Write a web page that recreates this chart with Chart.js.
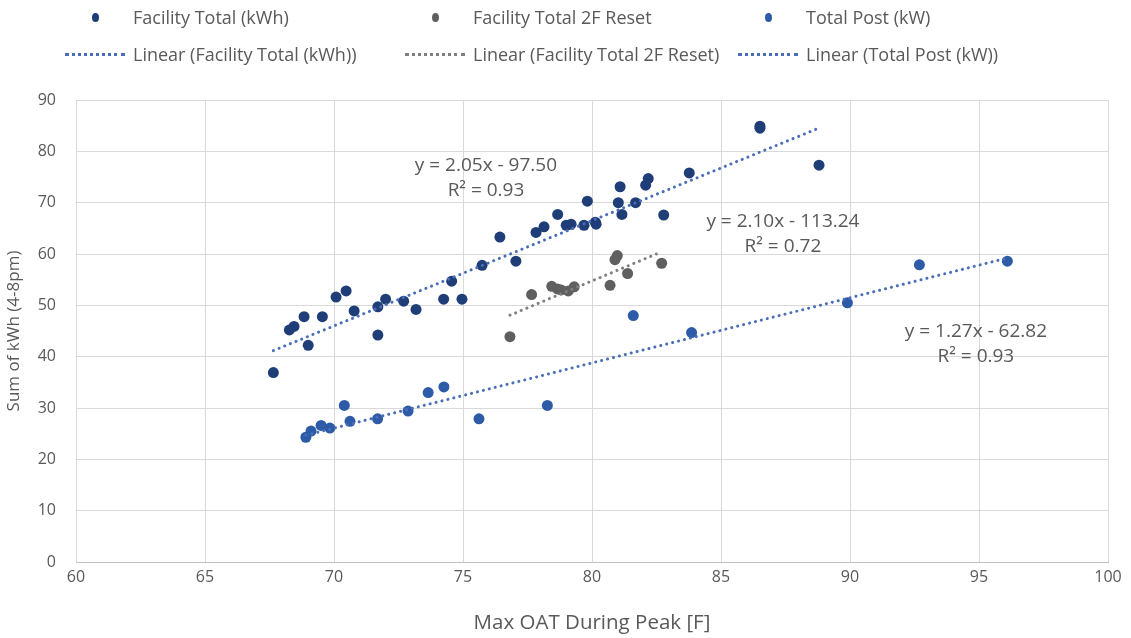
<!DOCTYPE html>
<html>
<head>
<meta charset="utf-8">
<script src="https://cdn.jsdelivr.net/npm/chart.js@4"></script>
<style>
  html, body { margin: 0; padding: 0; background: #fff; }
  #wrap { position: relative; width: 1131px; height: 638px; }
  #legend { position: absolute; left: 0; top: 0; width: 1131px; height: 80px; font-family: "Open Sans", sans-serif; font-size: 18px; color: #595959; }
  .item { position: absolute; display: flex; align-items: center; height: 22px; }
  .sym { width: 60px; display: flex; justify-content: center; align-items: center; }
  .dot { width: 7px; height: 9px; border-radius: 50%; }
  .dash { width: 60px; border-top: 3px dotted; }
  .txt { margin-left: 8px; white-space: nowrap; }
</style>
</head>
<body>
<div id="wrap">
  <canvas id="chart" width="1131" height="638"></canvas>
  <div id="legend"></div>
</div>
<script>
// Max OAT during peak [F] vs sum of kWh (4-8pm)
const facilityX = [67.65, 68.27, 68.45, 68.84, 69.0, 69.55, 70.08, 70.47, 70.78, 71.7, 71.7, 72.0, 72.7, 73.18, 74.25, 74.56, 74.96, 75.74, 76.43, 77.05, 77.83, 78.14, 78.67, 79.0, 79.19, 79.69, 79.82, 80.13, 80.16, 81.02, 81.09, 81.16, 81.69, 82.08, 82.18, 82.78, 83.77, 86.51, 86.51, 88.8];
const facilityY = [36.9, 45.2, 45.9, 47.8, 42.2, 47.8, 51.6, 52.8, 48.9, 44.2, 49.7, 51.2, 50.8, 49.2, 51.2, 54.7, 51.2, 57.8, 63.3, 58.6, 64.2, 65.3, 67.7, 65.6, 65.8, 65.6, 70.3, 66.2, 65.8, 70.0, 73.1, 67.7, 70.0, 73.4, 74.7, 67.6, 75.8, 84.9, 84.5, 77.3];

const resetX = [76.82, 77.66, 78.44, 78.66, 78.8, 79.08, 79.31, 80.7, 80.89, 80.98, 81.38, 82.7];
const resetY = [43.9, 52.1, 53.7, 53.2, 53.0, 52.8, 53.6, 53.9, 58.9, 59.7, 56.2, 58.2];

const postX = [68.91, 69.11, 69.5, 69.84, 70.4, 70.62, 71.69, 72.87, 73.65, 74.26, 75.62, 78.27, 81.6, 83.86, 89.9, 92.69, 96.1];
const postY = [24.3, 25.5, 26.6, 26.1, 30.5, 27.4, 27.9, 29.4, 33.0, 34.1, 27.9, 30.5, 48.0, 44.7, 50.5, 57.9, 58.6];

// trendline equations as printed on the chart
const slopes = [2.05, 2.10, 1.27];
const intercepts = [-97.50, -113.24, -62.82];
const r2 = ["0.93", "0.72", "0.93"];
const eqText = ["y = 2.05x - 97.50", "y = 2.10x - 113.24", "y = 1.27x - 62.82"];
// where the equation labels sit (data units, centre of first line)
const eqPos = [[75.89, 77.3], [87.4, 66.4], [94.88, 44.9]];

const names = ["Facility Total (kWh)", "Facility Total 2F Reset", "Total Post (kW)"];
const pointColors = ["#1f3e78", "#5f5f5f", "#2e5ba8"];
const lineColors = ["#4a6db8", "#7f7f7f", "#4a6db8"];

const xs = [facilityX, resetX, postX];
const ys = [facilityY, resetY, postY];
const font = "'Open Sans', sans-serif";

function pts(x, y) {
  return x.map((v, i) => ({ x: v, y: y[i] }));
}

function trend(i) {
  const lo = Math.min(...xs[i]), hi = Math.max(...xs[i]);
  return [lo, hi].map(x => ({ x: x, y: slopes[i] * x + intercepts[i] }));
}

const datasets = [];
names.forEach((name, i) => {
  datasets.push({
    label: name, data: pts(xs[i], ys[i]), order: 1,
    backgroundColor: pointColors[i], borderColor: pointColors[i],
    pointRadius: 5.5, pointBorderWidth: 0
  });
});
names.forEach((name, i) => {
  datasets.push({
    type: "line", label: "Linear (" + name + ")", data: trend(i), order: 0,
    borderColor: lineColors[i], borderWidth: 3, borderDash: [0.1, 6], borderCapStyle: "round",
    pointRadius: 0, fill: false
  });
});

const equations = {
  id: "equations",
  afterDatasetsDraw(chart) {
    const { ctx, scales } = chart;
    ctx.save();
    ctx.fillStyle = "#595959";
    ctx.font = "19px " + font;
    ctx.textAlign = "center";
    ctx.textBaseline = "middle";
    eqPos.forEach((p, i) => {
      const px = scales.x.getPixelForValue(p[0]);
      const py = scales.y.getPixelForValue(p[1]);
      ctx.fillText(eqText[i], px, py);
      ctx.fillText("R\u00b2 = " + r2[i], px, py + 25);
    });
    ctx.restore();
  }
};

new Chart(document.getElementById("chart"), {
  type: "scatter",
  data: { datasets },
  plugins: [equations],
  options: {
    responsive: false,
    animation: false,
    layout: { padding: { top: 100, right: 23, left: 0, bottom: 0 } },
    plugins: { legend: { display: false }, tooltip: { enabled: false } },
    scales: {
      x: {
        min: 60, max: 100,
        afterFit(s) { s.height = 76; },
        ticks: { stepSize: 5, color: "#595959", font: { family: font, size: 16 }, padding: 6 },
        grid: { color: "#d9d9d9", drawTicks: false },
        border: { color: "#bfbfbf" },
        title: { display: true, text: "Max OAT During Peak [F]", color: "#595959", font: { family: font, size: 20.5 }, padding: { bottom: 3 } }
      },
      y: {
        min: 0, max: 90,
        afterFit(s) { s.width = 76; },
        ticks: { stepSize: 10, color: "#595959", font: { family: font, size: 16 }, padding: 20 },
        grid: { color: "#d9d9d9", drawTicks: false },
        border: { color: "#d9d9d9" },
        title: { display: true, text: "Sum of kWh (4-8pm)", color: "#595959", font: { family: font, size: 17 }, padding: { top: 4 } }
      }
    }
  }
});

// legend laid out in three columns like the original
const legend = document.getElementById("legend");
const colLeft = [65, 405, 738];
const rowTop = [6, 43];
names.forEach((name, i) => {
  const a = document.createElement("div");
  a.className = "item";
  a.style.left = colLeft[i] + "px";
  a.style.top = rowTop[0] + "px";
  a.innerHTML = '<span class="sym"><span class="dot" style="background:' + pointColors[i] + '"></span></span><span class="txt">' + name + "</span>";
  legend.appendChild(a);
  const b = document.createElement("div");
  b.className = "item";
  b.style.left = colLeft[i] + "px";
  b.style.top = rowTop[1] + "px";
  b.innerHTML = '<span class="sym"><span class="dash" style="border-color:' + lineColors[i] + '"></span></span><span class="txt">Linear (' + name + ")</span>";
  legend.appendChild(b);
});
</script>
</body>
</html>
